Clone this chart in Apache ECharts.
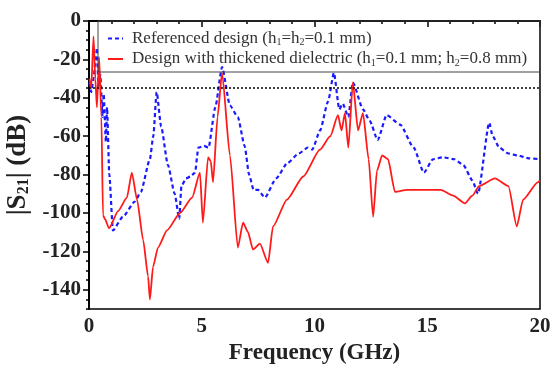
<!DOCTYPE html>
<html>
<head>
<meta charset="utf-8">
<script src="https://cdn.jsdelivr.net/npm/echarts@6/dist/echarts.min.js"></script>
<style>
html, body { margin: 0; padding: 0; background: #fff; }
#myChart { width: 552px; height: 373px; }
</style>
</head>
<body>
<div id="myChart"></div>
<script>
// referenced design (h1=h2=0.1 mm), frequency in GHz and S21 in dB
var refFreq = [0.02, 0.1, 0.2, 0.3, 0.35, 0.42, 0.5, 0.6, 0.65, 0.75, 0.8, 0.9, 1.06, 1.5, 2.04, 2.3, 2.7, 2.85, 3.0, 3.2, 3.5, 3.8, 4.0, 4.1, 4.3, 4.5, 4.7, 4.85, 5.1, 5.3, 5.6, 5.9, 6.25, 6.6, 6.9, 7.1, 7.3, 7.5, 7.8, 8.3, 8.8, 9.3, 9.7, 9.9, 10.25, 10.6, 10.86, 11.1, 11.25, 11.5, 11.7, 12.15, 12.45, 12.8, 13.2, 13.8, 14.4, 14.85, 15.25, 15.7, 16.2, 16.6, 17.0, 17.25, 17.75, 17.9, 18.2, 18.6, 19.0, 19.5, 20];
var refS21 = [-32, -37, -30, -20, -14, -35, -28, -50, -38, -63, -45, -80, -109, -102, -94, -89, -72, -60, -37, -55, -75, -90, -103, -86, -82, -81, -79, -66, -65, -66, -45, -24, -44, -50, -65, -80, -88, -88, -92, -82, -74, -69, -66, -67, -57, -42, -27, -46, -43, -50, -32, -46, -52, -62, -49, -54, -66, -79, -72, -71, -72, -75, -83, -90, -53, -60, -66, -69, -70, -71.5, -72];

// thickened dielectric (h1=0.1 mm; h2=0.8 mm)
var thkFreq = [0.02, 0.1, 0.2, 0.28, 0.35, 0.45, 0.55, 0.62, 0.7, 0.89, 1.29, 1.68, 1.9, 2.13, 2.4, 2.62, 2.7, 2.84, 3.06, 3.46, 4.04, 4.57, 4.92, 5.05, 5.28, 5.4, 5.5, 5.7, 5.9, 6.25, 6.6, 6.83, 7.05, 7.27, 7.58, 7.94, 8.16, 8.78, 9.5, 10.24, 10.7, 11.04, 11.2, 11.35, 11.5, 11.7, 11.93, 12.15, 12.4, 12.6, 12.77, 13.0, 13.26, 13.57, 14.1, 15.1, 15.6, 16.15, 16.67, 17.0, 17.3, 18.0, 18.6, 18.97, 19.25, 19.9, 20];
var thkS21 = [-30, -35, -8, -30, -45, -19, -50, -101, -103, -108, -99, -92, -79, -93, -114, -133, -145, -128, -118, -109, -100, -92, -79, -105, -71, -73, -84, -50, -27, -70, -118, -105, -110, -119, -116, -126, -107, -93, -81, -67, -60, -49, -57, -48, -66, -32, -57, -48, -72, -102, -78, -70, -72, -89, -88, -88, -88, -91, -95, -91, -86, -82, -86, -107, -93, -84, -83];

var yLabels = [0, -20, -40, -60, -80, -100, -120, -140];
var yMinor = [];
for (var v = 0; v >= -150; v -= 5) yMinor.push(v);
var refLine = -35;

function pairs(xs, ys) {
	var out = [];
	for (var i = 0; i < xs.length; i++) out.push([xs[i], ys[i]]);
	return out;
}

var serif = 'Liberation Serif';
var myChart = echarts.init(document.getElementById('myChart'));
var option = {
	animation: false,
	grid: {left: 89, right: 12, top: 21, bottom: 64, containLabel: false, outerBoundsMode: 'none',
		show: true, borderColor: '#000', borderWidth: 1.5},
	legend: {
		left: 102, top: 25, orient: 'vertical', itemGap: 3, itemWidth: 15, itemHeight: 10,
		data: ['ref', 'thk'],
		itemStyle: {opacity: 0},
		formatter: function(name) {
			if (name === 'ref') return '{a|Referenced design (h}{s|1}{a|=h}{s|2}{a|=0.1 mm)}';
			return '{a|Design with thickened dielectric (h}{s|1}{a|=0.1 mm; h}{s|2}{a|=0.8 mm)}';
		},
		textStyle: {
			padding: [0, 0, 0, 4],
			rich: {
				a: {fontFamily: serif, fontSize: 17, color: '#333'},
				s: {fontFamily: serif, fontSize: 10, color: '#333', padding: [8, 0, 0, 0]}
			}
		}
	},
	graphic: [{
		type: 'rect', silent: true, z: 5,
		shape: {x: 98, y: 21, width: 442, height: 51},
		style: {fill: 'none', stroke: '#444', lineWidth: 1}
	}],
	xAxis: {
		type: 'value', min: 0, max: 20, interval: 5,
		name: 'Frequency (GHz)', nameLocation: 'middle', nameGap: 32,
		nameTextStyle: {fontFamily: serif, fontSize: 23, fontWeight: 'bold', color: '#222'},
		axisLine: {lineStyle: {color: '#000', width: 2}},
		axisTick: {length: 6, lineStyle: {color: '#000', width: 1.5}},
		minorTick: {show: true, splitNumber: 5, length: 3, lineStyle: {color: '#000', width: 1.5}},
		splitLine: {show: false},
		axisLabel: {fontFamily: serif, fontSize: 21, fontWeight: 'bold', color: '#222', margin: 7}
	},
	yAxis: [{
		type: 'value', min: -150, max: 0, interval: 10,
		name: '{b||S}{s|21}{b|| (dB)}', nameLocation: 'middle', nameGap: 52, nameRotate: 90,
		nameTextStyle: {
			rich: {
				b: {fontFamily: serif, fontSize: 27, fontWeight: 'bold', color: '#222'},
				s: {fontFamily: serif, fontSize: 16, fontWeight: 'bold', color: '#222', padding: [11, 0, 0, 0]}
			}
		},
		axisLine: {lineStyle: {color: '#000', width: 2}},
		axisTick: {length: 6, customValues: yLabels, lineStyle: {color: '#000', width: 1.5}},
		splitLine: {show: false},
		axisLabel: {customValues: yLabels, fontFamily: serif, fontSize: 21, fontWeight: 'bold', color: '#222', margin: 8}
	}, {
		type: 'value', min: -150, max: 0, interval: 5, position: 'left',
		axisLine: {show: false},
		axisTick: {length: 3, customValues: yMinor, lineStyle: {color: '#000', width: 1.5}},
		axisLabel: {show: false},
		splitLine: {show: false}
	}],
	series: [{
		name: 'ref', type: 'line', showSymbol: false, symbol: 'none',
		smooth: 0.2, smoothMonotone: 'x',
		data: pairs(refFreq, refS21),
		lineStyle: {color: '#1a1aff', width: 2.2, type: [4, 3]},
		itemStyle: {color: '#1a1aff'},
		markLine: {
			silent: true, symbol: 'none', label: {show: false},
			lineStyle: {color: '#000', type: [2, 2], width: 1.5},
			data: [{yAxis: refLine}]
		}
	}, {
		name: 'thk', type: 'line', showSymbol: false, symbol: 'none',
		smooth: 0.2, smoothMonotone: 'x',
		data: pairs(thkFreq, thkS21),
		lineStyle: {color: '#ff1a1a', width: 1.8},
		itemStyle: {color: '#ff1a1a'}
	}]
};
myChart.setOption(option);
</script>
</body>
</html>
